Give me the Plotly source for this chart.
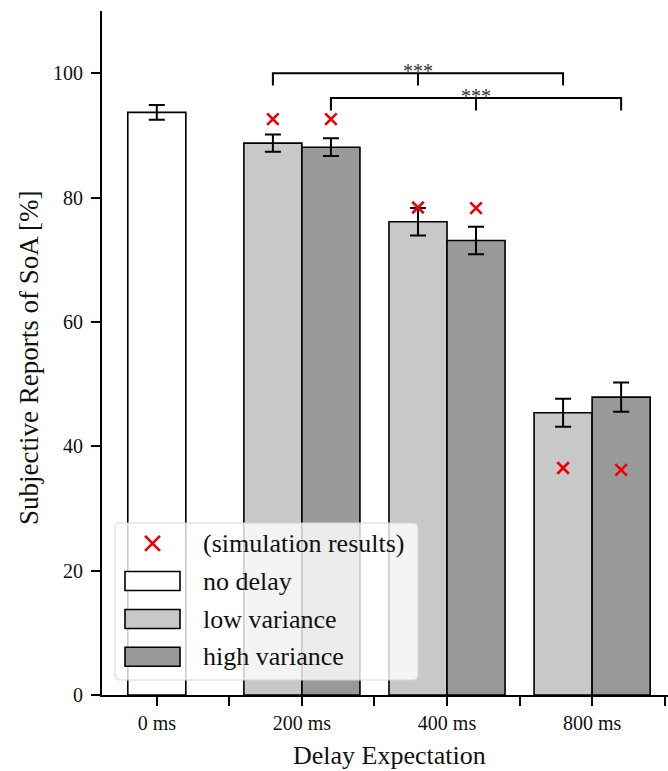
import plotly.graph_objects as go

# ---- data -------------------------------------------------------------
categories = ["0 ms", "200 ms", "400 ms", "800 ms"]
cat_pos = [0, 1, 2, 3]

no_delay_mean = [93.7]
no_delay_err = [1.2]

low_var_mean = [88.75, 76.1, 45.4]
low_var_err = [1.37, 2.2, 2.25]

high_var_mean = [88.1, 73.1, 47.9]
high_var_err = [1.43, 2.2, 2.35]

sim_low_var = [92.6, 78.4, 36.5]
sim_high_var = [92.6, 78.3, 36.2]

# significance brackets: (left series, right series, middle series) by category index
sig_brackets = [
    {"from": 1, "to": 3, "mid": 2, "offset": -0.2, "level": 100.0, "label": "***"},
    {"from": 1, "to": 3, "mid": 2, "offset": 0.2, "level": 96.0, "label": "***"},
]
bracket_drop = 2.0

# ---- styling ----------------------------------------------------------
FONT = "'Liberation Serif', 'Times New Roman', 'DejaVu Serif', serif"
W, H = 668, 771
M_L, M_R, M_T, M_B = 102, 0, 11, 76
BAR_W = 0.4
OFF = 0.2
COL_NONE = "#ffffff"
COL_LOW = "#c8c8c8"
COL_HIGH = "#999999"

grouped = cat_pos[1:]
x_low = [c - OFF for c in grouped]
x_high = [c + OFF for c in grouped]

fig = go.Figure()

err_style = dict(type="data", visible=True, color="black", thickness=2, width=8)

fig.add_trace(go.Bar(
    x=cat_pos[:1], y=no_delay_mean, width=BAR_W,
    marker=dict(color=COL_NONE, line=dict(color="black", width=1.6)),
    error_y=dict(array=no_delay_err, **err_style),
    name="no delay", showlegend=False,
))
fig.add_trace(go.Bar(
    x=x_low, y=low_var_mean, width=BAR_W,
    marker=dict(color=COL_LOW, line=dict(color="black", width=1.6)),
    error_y=dict(array=low_var_err, **err_style),
    name="low variance", showlegend=False,
))
fig.add_trace(go.Bar(
    x=x_high, y=high_var_mean, width=BAR_W,
    marker=dict(color=COL_HIGH, line=dict(color="black", width=1.6)),
    error_y=dict(array=high_var_err, **err_style),
    name="high variance", showlegend=False,
))
fig.add_trace(go.Scatter(
    x=x_low + x_high, y=sim_low_var + sim_high_var, mode="markers",
    marker=dict(symbol="x-thin", size=11.5, color="#ee0000",
                line=dict(color="#ee0000", width=2.6)),
    name="(simulation results)", showlegend=False, cliponaxis=False,
))

# ---- significance brackets -------------------------------------------
shapes = []
annotations = []
for b in sig_brackets:
    x0 = b["from"] + b["offset"]
    x1 = b["to"] + b["offset"]
    xm = b["mid"] + b["offset"]
    y = b["level"]
    yd = y - bracket_drop
    path = f"M{x0},{yd} L{x0},{y} L{x1},{y} L{x1},{yd} M{xm},{y} L{xm},{yd}"
    shapes.append(dict(type="path", xref="x", yref="y", path=path,
                       line=dict(color="black", width=2)))
    annotations.append(dict(x=xm, y=y, xref="x", yref="y", text=b["label"],
                            showarrow=False, xanchor="center", yanchor="middle",
                            yshift=2, font=dict(family=FONT, size=20, color="#333333")))

# ---- legend (drawn as a framed box over the axes) ----------------------
plot_w = W - M_L - M_R
plot_h = H - M_T - M_B


def px(xp):
    return (xp - M_L) / plot_w


def py(yp):
    return (H - M_B - yp) / plot_h


lx0, lx1, ly0, ly1 = 115, 418, 523, 680
rad = 5
rx, ry = rad / plot_w, rad / plot_h
X0, X1, Y0, Y1 = px(lx0), px(lx1), py(ly1), py(ly0)
box = (f"M{X0 + rx},{Y0} L{X1 - rx},{Y0} Q{X1},{Y0} {X1},{Y0 + ry} "
       f"L{X1},{Y1 - ry} Q{X1},{Y1} {X1 - rx},{Y1} L{X0 + rx},{Y1} "
       f"Q{X0},{Y1} {X0},{Y1 - ry} L{X0},{Y0 + ry} Q{X0},{Y0} {X0 + rx},{Y0} Z")
shapes.append(dict(type="path", xref="paper", yref="paper", path=box, layer="above",
                   fillcolor="rgba(255,255,255,0.8)", line=dict(color="#d4d4d4", width=1)))

legend_rows = [
    ("(simulation results)", None),
    ("no delay", COL_NONE),
    ("low variance", COL_LOW),
    ("high variance", COL_HIGH),
]
row_y = [543.3, 581.0, 619.0, 656.7]
patch_x0, patch_x1, patch_h = 125, 180, 19
text_x = 201
for (label, col), yc in zip(legend_rows, row_y):
    if col is None:
        cx, half = (patch_x0 + patch_x1) / 2, 7.5
        for sgn in (1, -1):
            shapes.append(dict(type="line", xref="paper", yref="paper", layer="above",
                               x0=px(cx - half), x1=px(cx + half),
                               y0=py(yc - sgn * half), y1=py(yc + sgn * half),
                               line=dict(color="#ee0000", width=2.6)))
    else:
        shapes.append(dict(type="rect", xref="paper", yref="paper", layer="above",
                           x0=px(patch_x0), x1=px(patch_x1),
                           y0=py(yc + patch_h / 2), y1=py(yc - patch_h / 2),
                           fillcolor=col, line=dict(color="black", width=1.6)))
    annotations.append(dict(x=px(text_x), y=py(yc), xref="paper", yref="paper",
                            text=label, showarrow=False, xanchor="left", yanchor="middle",
                            font=dict(family=FONT, size=26, color="#111111")))

# axis titles
annotations.append(dict(x=px(389), y=py(755), xref="paper", yref="paper",
                        text="Delay Expectation", showarrow=False,
                        xanchor="center", yanchor="middle",
                        font=dict(family=FONT, size=26, color="#111111")))
annotations.append(dict(x=px(29), y=py(358), xref="paper", yref="paper",
                        text="Subjective Reports of SoA [%]", showarrow=False, textangle=-90,
                        xanchor="center", yanchor="middle",
                        font=dict(family=FONT, size=27, color="#111111")))

# x range chosen so category spacing is uniform and the right side runs to the edge
x_left = -0.3777
x_right = 3.523

fig.update_layout(
    width=W, height=H,
    margin=dict(l=M_L, r=M_R, t=M_T, b=M_B, pad=0),
    paper_bgcolor="white", plot_bgcolor="white",
    barmode="overlay", showlegend=False,
    shapes=shapes, annotations=annotations,
    font=dict(family=FONT, color="#111111"),
)
fig.update_xaxes(
    range=[x_left, x_right], tickmode="array", tickvals=cat_pos, ticktext=categories,
    ticks="outside", ticklen=9, tickwidth=2, tickcolor="black",
    showline=True, linecolor="black", linewidth=2, showgrid=False, zeroline=False,
    tickfont=dict(family=FONT, size=20, color="#111111"),
    minor=dict(tickvals=[c + 0.5 for c in cat_pos], ticks="outside", ticklen=9,
               tickwidth=2, tickcolor="black", showgrid=False),
)
fig.update_yaxes(
    range=[0, 110], tickmode="array", tickvals=[0, 20, 40, 60, 80, 100],
    ticks="outside", ticklen=9, tickwidth=2, tickcolor="black", ticklabelstandoff=4,
    showline=True, linecolor="black", linewidth=2, showgrid=False, zeroline=False,
    tickfont=dict(family=FONT, size=20, color="#111111"),
)

fig.write_html("out.html")
